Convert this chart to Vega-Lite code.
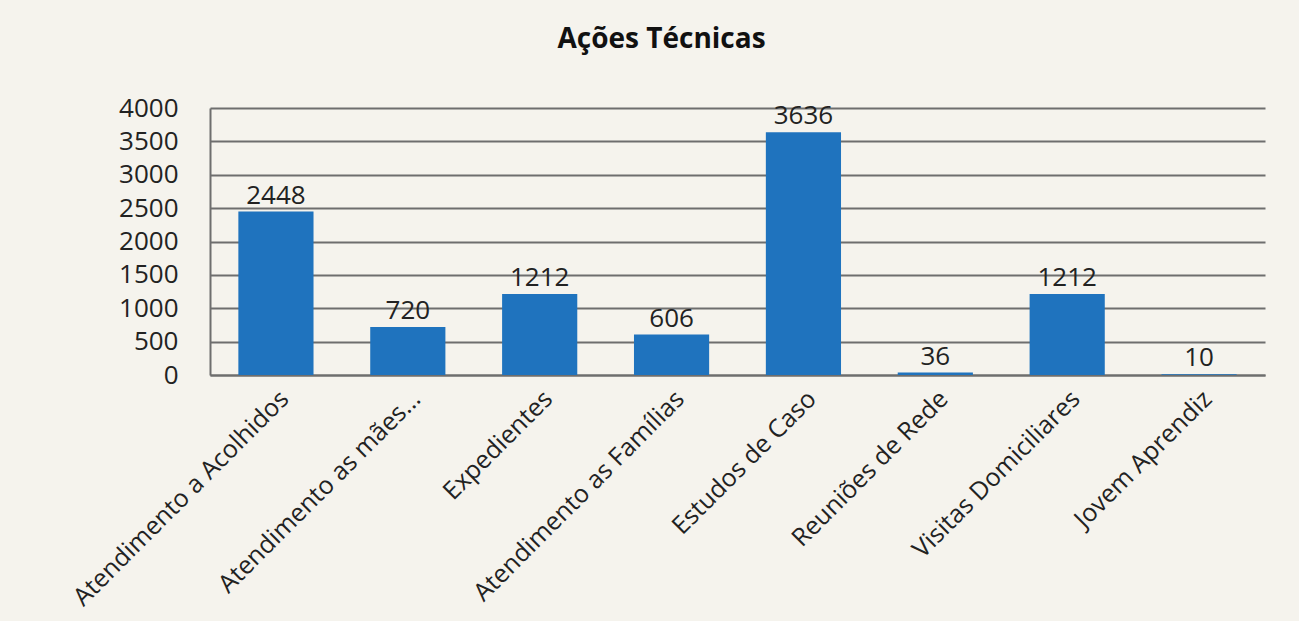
{
  "$schema": "https://vega.github.io/schema/vega-lite/v6.json",
  "autosize": {"type": "none"},
  "width": 1055,
  "height": 267,
  "padding": {"left": 210, "top": 108, "right": 34, "bottom": 246},
  "background": "#f5f3ed",
  "title": {
    "text": "Ações Técnicas",
    "font": "Open Sans",
    "fontSize": 28,
    "fontWeight": "bold",
    "color": "#111111",
    "anchor": "middle",
    "dx": -76,
    "offset": 41
  },
  "data": {
    "values": [
      {"acao": "Atendimento a Acolhidos", "valor": 2448},
      {"acao": "Atendimento as mães...", "valor": 720},
      {"acao": "Expedientes", "valor": 1212},
      {"acao": "Atendimento as Famílias", "valor": 606},
      {"acao": "Estudos de Caso", "valor": 3636},
      {"acao": "Reuniões de Rede", "valor": 36},
      {"acao": "Visitas Domiciliares", "valor": 1212},
      {"acao": "Jovem Aprendiz", "valor": 10}
    ]
  },
  "encoding": {
    "x": {
      "field": "acao",
      "type": "nominal",
      "sort": null,
      "title": null,
      "scale": {"paddingInner": 0.43, "paddingOuter": 0.215},
      "axis": {
        "labelAngle": -45,
        "labelFont": "Open Sans",
        "labelFontSize": 25,
        "labelColor": "#222222",
        "labelPadding": 11,
        "labelLimit": 400,
        "ticks": false,
        "domain": true,
        "domainColor": "#6e6e6e",
        "domainWidth": 2
      }
    },
    "y": {
      "field": "valor",
      "type": "quantitative",
      "title": null,
      "scale": {"domain": [0, 4000], "nice": false},
      "axis": {
        "values": [0, 500, 1000, 1500, 2000, 2500, 3000, 3500, 4000],
        "format": "d",
        "labelFont": "Open Sans",
        "labelFontSize": 26,
        "labelColor": "#222222",
        "labelPadding": 32,
        "ticks": false,
        "domain": true,
        "domainColor": "#6e6e6e",
        "domainWidth": 2,
        "grid": true,
        "gridColor": "#6e6e6e",
        "gridWidth": 2
      }
    }
  },
  "layer": [
    {"mark": {"type": "bar", "color": "#1f73be"}},
    {
      "mark": {
        "type": "text",
        "baseline": "alphabetic",
        "dy": -8,
        "font": "Open Sans",
        "fontSize": 26,
        "color": "#222222"
      },
      "encoding": {"text": {"field": "valor", "type": "quantitative"}}
    }
  ],
  "config": {"view": {"stroke": null}}
}
